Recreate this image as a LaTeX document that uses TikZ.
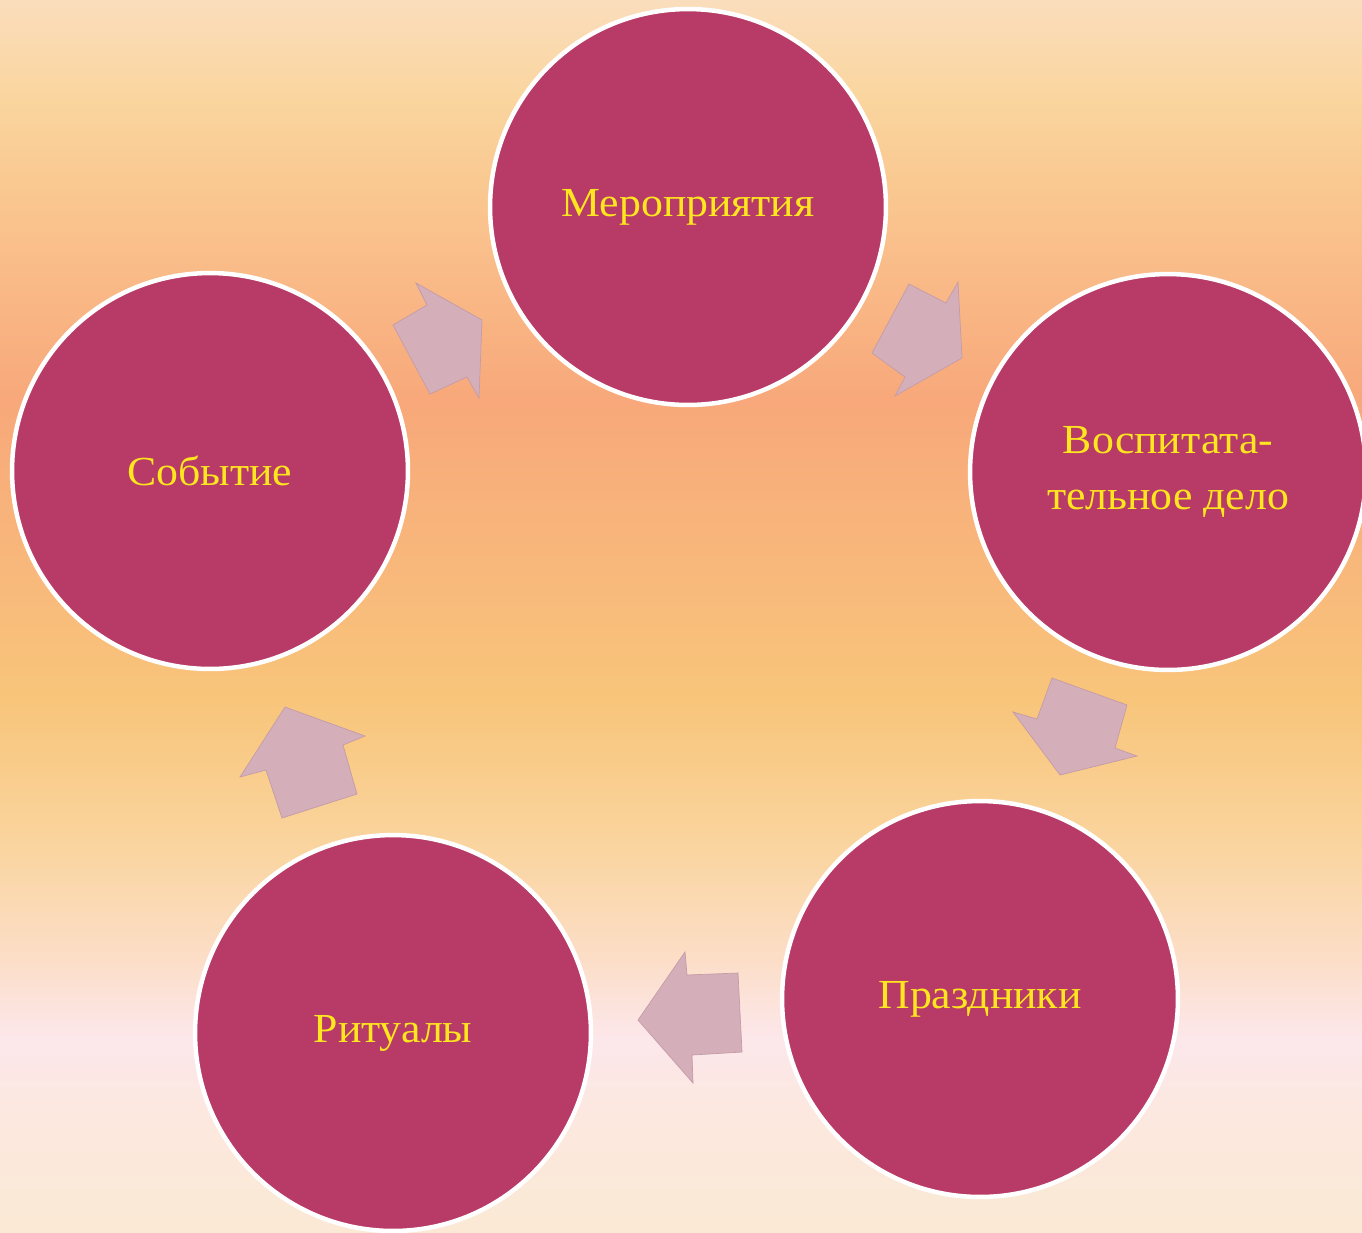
\documentclass[tikz,border=0pt]{standalone}
\usepackage{fontspec}
\setmainfont{Liberation Serif}[FakeStretch=1.06]
\definecolor{circfill}{RGB}{184,59,103}
\definecolor{txtyellow}{RGB}{255,230,30}
\definecolor{arrfill}{RGB}{212,174,185}
\definecolor{arrline}{RGB}{196,156,168}
\definecolor{bgA}{RGB}{250,221,188}
\definecolor{bgB}{RGB}{250,213,158}
\definecolor{bgC}{RGB}{250,198,143}
\definecolor{bgD}{RGB}{249,183,133}
\definecolor{bgE}{RGB}{248,168,122}
\definecolor{bgF}{RGB}{248,182,123}
\definecolor{bgG}{RGB}{248,197,122}
\definecolor{bgH}{RGB}{250,213,160}
\definecolor{bgI}{RGB}{252,222,200}
\definecolor{bgJ}{RGB}{252,231,235}
\definecolor{bgK}{RGB}{252,232,222}
\definecolor{bgL}{RGB}{251,233,213}
\pgfdeclareverticalshading{bgshade}{100bp}{%
color(0bp)=(bgL); color(25bp)=(bgL); color(29.55bp)=(bgK); color(32.79bp)=(bgJ);
color(36.04bp)=(bgI); color(40.5bp)=(bgH); color(46.59bp)=(bgG); color(52.68bp)=(bgF);
color(58.77bp)=(bgE); color(62.82bp)=(bgD); color(66.88bp)=(bgC); color(70.94bp)=(bgB);
color(75bp)=(bgA); color(100bp)=(bgA)}
\tikzset{
  stage/.style={circle, fill=circfill, draw=white, line width=0.09cm,
    minimum size=7.92cm, inner sep=0pt, align=center, text=txtyellow,
    font=\fontsize{23.5}{32}\selectfont},
  blockarrow/.style={fill=arrfill, draw=arrline, line width=0.4pt, line join=miter}
}
\begin{document}
\begin{tikzpicture}[x=0.02cm, y=-0.02cm]
\useasboundingbox (0,0) rectangle (1362,1232);
\shade[shading=bgshade] (0,0) rectangle (1362,1232);
% stages
\node[stage] (top) at (688,207) {Мероприятия};
\node[stage] (right) at (1168,472) {Воспитата-\\тельное дело};
\node[stage] (botright) at (980,999) {Праздники};
\node[stage] (botleft) at (393,1033) {Ритуалы};
\node[stage] (left) at (210,471) {Событие};
% block arrows (cycle)
\draw[blockarrow] (393,325) -- (427,305) -- (416,283) -- (482,320) -- (479,398) -- (467,377) -- (430,394) -- cycle;
\draw[blockarrow] (909,284) -- (946,303) -- (958,282) -- (962,358) -- (895,396) -- (905,377) -- (872,353) -- cycle;
\draw[blockarrow] (1052,678) -- (1127,705) -- (1115,748) -- (1137,756) -- (1060,775) -- (1013,712) -- (1037,719) -- cycle;
\draw[blockarrow] (738,973) -- (687,975) -- (685,952) -- (638,1020) -- (693,1083) -- (692,1055) -- (742,1052) -- cycle;
\draw[blockarrow] (285,707) -- (365,736) -- (343,745) -- (357,794) -- (282,818) -- (266,770) -- (240,777) -- cycle;
\end{tikzpicture}
\end{document}
